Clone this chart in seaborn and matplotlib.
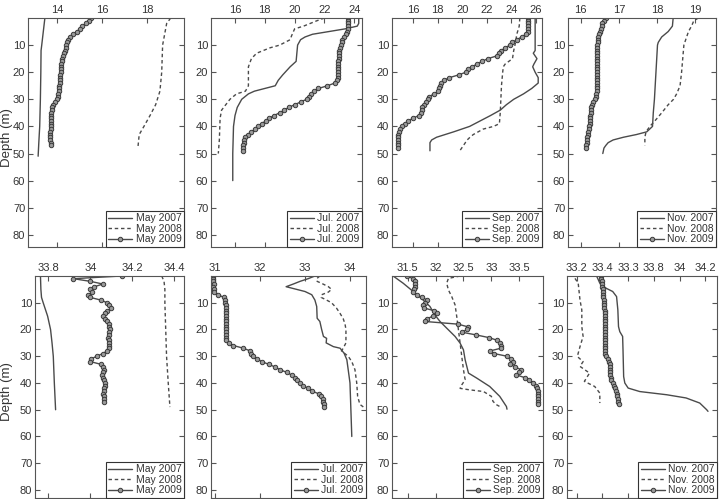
import numpy as np
import seaborn as sns
import matplotlib.pyplot as plt

# ---------------- temperature (deg C) ----------------
may07_t_d = [0, 5, 10, 12, 20, 30, 40, 46, 51]
may07_t = [13.45, 13.38, 13.31, 13.28, 13.27, 13.25, 13.22, 13.18, 13.15]
may08_t_d = [0, 2, 10, 20, 27, 32, 36, 40, 43, 48]
may08_t = [19.04, 18.86, 18.68, 18.64, 18.56, 18.37, 18.12, 17.85, 17.64, 17.58]
# 2009 profiles are 1 m bins starting at the surface
may09_t = [15.48, 15.40, 15.28, 15.12, 15.00, 14.88, 14.72, 14.58, 14.48, 14.42,
           14.39, 14.37, 14.34, 14.30, 14.26, 14.21, 14.19, 14.18, 14.17, 14.16,
           14.15, 14.14, 14.13, 14.12, 14.10, 14.09, 14.08, 14.06, 14.05, 14.02,
           14.00, 13.92, 13.83, 13.78, 13.75, 13.73, 13.72, 13.71, 13.71, 13.70,
           13.70, 13.70, 13.69, 13.69, 13.69, 13.69, 13.70, 13.70]

jul07_t_d = [0, 2, 3, 4, 5, 6, 7, 8, 10, 13, 16, 18, 21, 23, 25, 26, 27, 28, 30,
             33, 36, 40, 50, 60]
jul07_t = [24.3, 24.3, 24.2, 23.4, 22.3, 21.2, 20.7, 20.4, 20.2, 20.15, 20.1, 19.7,
           19.2, 18.9, 18.7, 18.0, 17.3, 16.9, 16.45, 16.15, 16.0, 15.9, 15.85, 15.85]
jul08_t_d = [0, 1, 3, 4, 6.5, 8, 10, 11, 13, 15, 18, 25, 27, 28, 30, 34, 37, 45, 50]
jul08_t = [22.0, 21.5, 20.6, 20.0, 19.8, 19.7, 19.0, 18.35, 17.45, 17.1, 16.9, 16.9,
           16.7, 16.1, 15.66, 15.1, 15.0, 14.95, 14.88]
jul09_t = [23.6, 23.55, 23.55, 23.55, 23.55, 23.5, 23.45, 23.3, 23.2, 23.15,
           23.1, 23.05, 23.0, 23.0, 22.97, 22.95, 22.94, 22.93, 22.92, 22.91,
           22.9, 22.89, 22.88, 22.86, 22.7, 22.2, 21.6, 21.3, 21.1, 20.95,
           20.8, 20.4, 20.0, 19.6, 19.3, 19.0, 18.6, 18.3, 18.05, 17.8,
           17.55, 17.35, 17.1, 16.85, 16.7, 16.6, 16.58, 16.57, 16.56, 16.56]

sep07_t_d = [0, 12, 13, 15, 17, 18, 20, 22, 24, 26, 28, 30, 32, 34, 36, 38, 40,
             42, 44, 45, 46, 49]
sep07_t = [25.95, 25.95, 25.8, 26.1, 25.85, 25.75, 25.95, 26.2, 26.2, 25.67, 25.0,
           24.2, 23.6, 23.1, 22.3, 21.45, 20.6, 19.3, 17.9, 17.5, 17.36, 17.36]
sep08_t_d = [0, 3, 6, 9, 12, 15, 16, 17, 18, 20, 25, 30, 35, 39, 40, 41, 43, 44,
             45, 47, 49]
sep08_t = [24.7, 24.65, 24.45, 24.35, 24.2, 24.1, 23.8, 23.5, 23.35, 23.3, 23.2,
           23.15, 23.1, 23.03, 22.55, 21.7, 20.9, 20.63, 20.4, 20.1, 19.8]
sep09_t = [25.35, 25.35, 25.35, 25.35, 25.35, 25.33, 25.2, 24.85, 24.45, 24.1,
           23.9, 23.5, 23.2, 23.0, 22.8, 22.1, 21.6, 21.2, 20.8, 20.5,
           20.3, 19.7, 18.95, 18.5, 18.3, 18.2, 18.1, 18.05, 17.7, 17.3,
           17.2, 17.0, 16.9, 16.75, 16.7, 16.6, 16.45, 15.95, 15.6, 15.3,
           15.1, 14.95, 14.83, 14.78, 14.77, 14.76, 14.76, 14.76, 14.76]

nov07_t_d = [0, 3, 5, 7, 9, 10, 20, 30, 35, 40, 42, 43, 44, 45, 46, 47, 48, 50]
nov07_t = [18.42, 18.4, 18.29, 18.12, 18.03, 18.01, 17.97, 17.93, 17.9, 17.88,
           17.73, 17.46, 17.12, 16.85, 16.72, 16.66, 16.61, 16.58]
nov08_t_d = [0, 1, 3, 5, 10, 15, 20, 25, 28, 30, 32, 35, 38, 40, 42, 44, 47]
nov08_t = [19.08, 18.96, 18.9, 18.82, 18.7, 18.67, 18.64, 18.6, 18.51, 18.43,
           18.29, 18.12, 17.94, 17.81, 17.71, 17.68, 17.68]
nov09_t = [16.66, 16.61, 16.57, 16.55, 16.53, 16.5, 16.48, 16.46, 16.45, 16.445,
           16.44, 16.435, 16.43, 16.43, 16.425, 16.42, 16.42, 16.42, 16.42, 16.42,
           16.42, 16.42, 16.42, 16.42, 16.42, 16.42, 16.42, 16.42, 16.4, 16.39,
           16.37, 16.33, 16.29, 16.28, 16.27, 16.26, 16.25, 16.245, 16.24, 16.235,
           16.23, 16.215, 16.2, 16.185, 16.17, 16.16, 16.155, 16.15, 16.14]

# ---------------- salinity ----------------
may07_s_d = [0, 5, 8, 10, 15, 20, 25, 30, 40, 50]
may07_s = [33.763, 33.765, 33.768, 33.776, 33.797, 33.811, 33.818, 33.824, 33.829, 33.835]
may08_s_d = [0, 2, 5, 10, 20, 30, 40, 49]
may08_s = [34.34, 34.351, 34.355, 34.355, 34.359, 34.363, 34.371, 34.379]
may09_s = [34.15, 33.92, 34.00, 34.06, 34.02, 34.00, 34.01, 33.99, 34.00, 34.05,
           34.08, 34.09, 34.10, 34.08, 34.07, 34.06, 34.07, 34.08, 34.09, 34.09,
           34.095, 34.09, 34.09, 34.085, 34.09, 34.09, 34.09, 34.09, 34.08, 34.06,
           34.03, 34.005, 34.00, 34.05, 34.06, 34.065, 34.06, 34.055, 34.06, 34.065,
           34.07, 34.07, 34.065, 34.065, 34.06, 34.065, 34.065, 34.065]

jul07_s_d = [0, 1, 2, 3, 4, 5.8, 7, 9, 11.4, 15.8, 17, 20, 22.6, 23.3, 25, 26.4,
             27, 28.9, 31.3, 35, 40, 60]
jul07_s = [33.22, 33.07, 32.89, 32.74, 32.58, 33.0, 33.15, 33.22, 33.26, 33.27,
           33.33, 33.37, 33.41, 33.48, 33.47, 33.63, 33.78, 33.87, 33.93, 33.96,
           34.0, 34.04]
jul08_s_d = [0, 1, 2, 3, 4, 5, 6, 7, 8, 9, 10, 12, 14, 16, 18, 20, 25, 27, 28, 30,
             32, 35, 40, 45, 48, 49]
jul08_s = [33.33, 33.26, 33.27, 33.4, 33.52, 33.59, 33.52, 33.37, 33.36, 33.48,
           33.59, 33.7, 33.78, 33.85, 33.89, 33.91, 33.91, 33.85, 33.81, 33.96,
           34.04, 34.11, 34.15, 34.17, 34.22, 34.3]
jul09_s = [30.96, 30.96, 30.96, 30.97, 30.96, 30.97, 30.98, 31.07, 31.19, 31.22,
           31.23, 31.24, 31.24, 31.25, 31.24, 31.24, 31.25, 31.24, 31.24, 31.25,
           31.24, 31.24, 31.25, 31.24, 31.25, 31.3, 31.41, 31.63, 31.78, 31.8,
           31.85, 31.93, 32.04, 32.19, 32.33, 32.44, 32.59, 32.7, 32.78, 32.83,
           32.89, 32.96, 33.07, 33.15, 33.3, 33.35, 33.39, 33.4, 33.42, 33.42]

sep07_s_d = [0, 2.7, 5.8, 9, 11.4, 14.6, 17, 19.5, 22.6, 25.1, 27.6, 31.3, 36.3,
             38.2, 41.3, 45, 48.8, 49.8]
sep07_s = [31.24, 31.42, 31.6, 31.78, 31.9, 31.99, 32.08, 32.2, 32.35, 32.44, 32.5,
           32.53, 32.59, 32.74, 32.97, 33.15, 33.27, 33.28]
sep08_s_d = [0, 0.9, 2.7, 5.2, 7.7, 10.8, 15.2, 20.1, 25.1, 30.1, 35, 38.8, 40.7,
             42, 42.5, 43.2, 45, 46.9, 48.1, 48.8]
sep08_s = [32.44, 32.23, 32.2, 32.23, 32.29, 32.35, 32.38, 32.41, 32.44, 32.47,
           32.5, 32.53, 32.47, 32.44, 32.59, 32.86, 33.0, 33.03, 33.09, 33.15]
sep09_s = [31.48, 31.60, 31.63, 31.63, 31.63, 31.62, 31.60, 31.66, 31.76, 31.85,
           31.82, 31.78, 31.80, 31.98, 32.03, 31.95, 31.85, 31.81, 32.40, 32.58,
           32.57, 32.47, 32.72, 32.95, 33.10, 33.16, 33.18, 33.17, 32.98, 33.05,
           33.28, 33.35, 33.39, 33.34, 33.42, 33.53, 33.50, 33.45, 33.60, 33.68,
           33.75, 33.80, 33.82, 33.83, 33.83, 33.84, 33.84, 33.84, 33.84]

nov07_s_d = [0, 2.7, 4.6, 5.8, 7.7, 12.7, 18.9, 20.8, 22.6, 27.6, 37.6, 40, 41.9,
             43.2, 44.4, 45.6, 47.5, 50, 50.6]
nov07_s = [33.355, 33.38, 33.43, 33.48, 33.51, 33.52, 33.525, 33.535, 33.557, 33.56,
           33.565, 33.574, 33.6, 33.69, 33.9, 34.05, 34.156, 34.21, 34.22]
nov08_s_d = [0.9, 2.7, 9, 12.7, 18.9, 22.6, 26.4, 30.1, 32, 33.8, 36.3, 39.4, 41.3,
             43.8, 47.5]
nov08_s = [33.187, 33.212, 33.226, 33.24, 33.24, 33.25, 33.226, 33.205, 33.25,
           33.226, 33.3, 33.26, 33.34, 33.38, 33.38]
nov09_s = [33.39, 33.392, 33.395, 33.398, 33.4, 33.402, 33.404, 33.406, 33.408, 33.41,
           33.413, 33.415, 33.416, 33.417, 33.418, 33.419, 33.42, 33.42, 33.42, 33.42,
           33.42, 33.42, 33.42, 33.42, 33.42, 33.42, 33.42, 33.42, 33.42, 33.42,
           33.43, 33.44, 33.455, 33.457, 33.458, 33.46, 33.461, 33.462, 33.463, 33.47,
           33.48, 33.488, 33.495, 33.503, 33.51, 33.515, 33.518, 33.522, 33.525]

months = ['May', 'Jul.', 'Sep.', 'Nov.']
depth_ticks = [10, 20, 30, 40, 50, 60, 70, 80]

sns.set_style("ticks")
plt.rcParams['font.family'] = ['Liberation Sans', 'DejaVu Sans']

W, H = 721, 499
fig = plt.figure(figsize=(W / 100, H / 100), dpi=100)
line_col = '#4a4a4a'
text_col = '#333333'

# pixel boxes of the panels: (left, right, top, bottom)
boxes = [
    (28, 184, 18, 247), (211, 362, 18, 247), (392, 542, 18, 247), (568, 716, 18, 247),
    (35, 184, 276, 498), (211, 366, 276, 498), (392, 543, 276, 498), (567, 717, 276, 498),
]

panels = [
    ((may07_t_d, may07_t), (may08_t_d, may08_t), may09_t, (12.70, 19.63), [14, 16, 18], None),
    ((jul07_t_d, jul07_t), (jul08_t_d, jul08_t), jul09_t, (14.39, 24.52), [16, 18, 20, 22, 24], None),
    ((sep07_t_d, sep07_t), (sep08_t_d, sep08_t), sep09_t, (14.26, 26.51), [16, 18, 20, 22, 24, 26], None),
    ((nov07_t_d, nov07_t), (nov08_t_d, nov08_t), nov09_t, (15.67, 19.54), [16, 17, 18, 19], None),
    ((may07_s_d, may07_s), (may08_s_d, may08_s), may09_s, (33.737, 34.446), [33.8, 34, 34.2, 34.4],
     ['33.8', '34', '34.2', '34.4']),
    ((jul07_s_d, jul07_s), (jul08_s_d, jul08_s), jul09_s, (30.91, 34.356), [31, 32, 33, 34], None),
    ((sep07_s_d, sep07_s), (sep08_s_d, sep08_s), sep09_s, (31.22, 33.925), [31.5, 32, 32.5, 33, 33.5],
     ['31.5', '32', '32.5', '33', '33.5']),
    ((nov07_s_d, nov07_s), (nov08_s_d, nov08_s), nov09_s, (33.125, 34.29), [33.2, 33.4, 33.6, 33.8, 34, 34.2],
     ['33.2', '33.4', '33.3', '33.8', '34', '34.2']),
]

for i, (box, (p07, p08, v09, xlim, xt, xtl)) in enumerate(zip(boxes, panels)):
    l, r, t, b = box
    ax = fig.add_axes([l / W, 1 - b / H, (r - l) / W, (b - t) / H])
    m = months[i % 4]
    d09 = list(range(len(v09)))  # 1 m bins

    sns.lineplot(x=p07[1], y=p07[0], sort=False, estimator=None, orient='y',
                 color=line_col, lw=1.0, label=f'{m} 2007', ax=ax)
    sns.lineplot(x=p08[1], y=p08[0], sort=False, estimator=None, orient='y',
                 color=line_col, lw=1.0, linestyle=(0, (2.5, 2)), label=f'{m} 2008', ax=ax)
    sns.lineplot(x=v09, y=d09, sort=False, estimator=None, orient='y',
                 color=line_col, lw=1.0, marker='o', markersize=3.2,
                 markerfacecolor='#9a9a9a', markeredgecolor='#3a3a3a', markeredgewidth=0.7,
                 label=f'{m} 2009', ax=ax)

    bottom_depth = 84.5 if i < 4 else 83
    ax.set_xlim(*xlim)
    ax.set_ylim(bottom_depth, 0)
    ax.set_yticks(depth_ticks)
    ax.set_xticks(xt)
    if xtl is not None:
        ax.set_xticklabels(xtl)
    ax.set_xlabel('')
    ax.set_ylabel('')
    ax.tick_params(direction='in', top=True, right=True, bottom=True, left=True,
                   labeltop=True, labelbottom=False, length=3.5, width=0.8,
                   labelsize=8, pad=2, colors='#555555', labelcolor=text_col)
    for s in ax.spines.values():
        s.set_color('#555555')
        s.set_linewidth(0.8)

    leg = ax.legend(loc='lower right', fontsize=7.5, frameon=True, fancybox=False,
                    edgecolor='#333333', framealpha=1, borderaxespad=0, borderpad=0.25,
                    labelspacing=0.05, handlelength=2.3, handletextpad=0.3)
    leg.get_frame().set_linewidth(0.8)
    for txt in leg.get_texts():
        txt.set_color(text_col)

    if i % 4 == 0:
        yc = t + 0.52 * (b - t)
        fig.text(7.5 / W, 1 - yc / H, 'Depth (m)', rotation=90, ha='center',
                 va='center', fontsize=9.5, color=text_col)

fig.savefig('out.png', dpi=100)
